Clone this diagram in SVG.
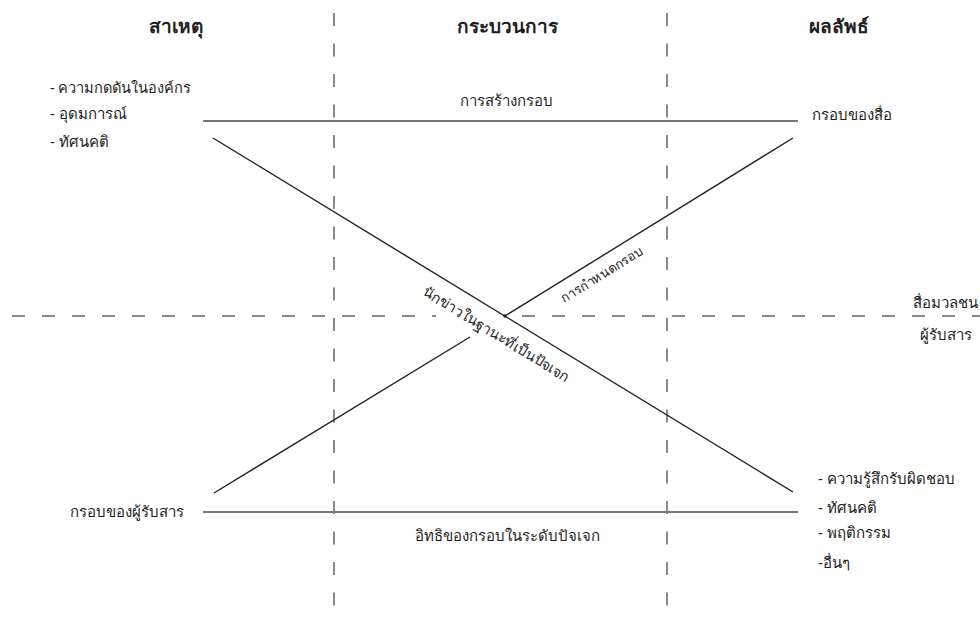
<svg xmlns="http://www.w3.org/2000/svg" width="980" height="617" viewBox="0 0 980 617">
<style>
text{font-family:"Noto Sans","DejaVu Sans",sans-serif;fill:#1e1e1e;}
.h{font-size:19px;font-weight:bold;}
.t{font-size:15px;}
.s{font-size:13px;}
.dash{stroke:#8a8a8a;stroke-width:2;fill:none;}
.hl{stroke:#777;stroke-width:2;fill:none;}
.dl{stroke:#222;stroke-width:1.4;fill:none;}
</style>
<rect width="980" height="617" fill="#fff"/>
<g id="guides">
<line class="dash" x1="334" y1="13" x2="334" y2="612" stroke-dasharray="13 17.5"/>
<line class="dash" x1="667" y1="13" x2="667" y2="612" stroke-dasharray="13 17.5"/>
<line class="dash" x1="-18" y1="316" x2="436" y2="316" stroke-dasharray="13 17"/>
<line class="dash" x1="522" y1="316" x2="980" y2="316" stroke-dasharray="13 17"/>
</g>
<g id="headers">
<text class="h" x="176" y="33" text-anchor="middle">สาเหตุ</text>
<text class="h" x="507" y="33" text-anchor="middle">กระบวนการ</text>
<text class="h" x="839" y="33" text-anchor="middle">ผลลัพธ์</text>
</g>
<g id="connectors">
<line class="hl" x1="203" y1="121" x2="798" y2="121"/>
<line class="hl" x1="203" y1="512" x2="798" y2="512"/>
<line class="dl" x1="213" y1="138" x2="793" y2="492"/>
<line class="dl" x1="214" y1="493" x2="470" y2="337"/>
<line class="dl" x1="505" y1="316" x2="793" y2="138"/>
<circle cx="505" cy="316" r="1.8" fill="#222"/>
</g>
<g id="node-causes">
<text class="t" x="50" y="93" style="font-size:14.6px">- ความกดดันในองค์กร</text>
<text class="t" x="50" y="119">- อุดมการณ์</text>
<text class="t" x="50" y="147">- ทัศนคติ</text>
</g>
<g id="node-frame-building">
<text class="t" x="506" y="106" text-anchor="middle">การสร้างกรอบ</text>
</g>
<g id="node-media-frame">
<text class="t" x="812" y="120">กรอบของสื่อ</text>
</g>
<g id="node-frame-setting">
<text class="s" transform="translate(505,316) rotate(-31.7)" x="104" y="20" text-anchor="middle">การกำหนดกรอบ</text>
</g>
<g id="node-journalist">
<text class="t" transform="translate(505,316) rotate(31.4)" x="2" y="25" text-anchor="middle" style="font-size:14.5px">นักข่าวในฐานะที่เป็นปัจเจก</text>
</g>
<g id="node-media-audience">
<text class="t" x="913" y="308">สื่อมวลชน</text>
<text class="t" x="920" y="340">ผู้รับสาร</text>
</g>
<g id="node-audience-frame">
<text class="t" x="70" y="517">กรอบของผู้รับสาร</text>
</g>
<g id="node-individual-effect">
<text class="t" x="507" y="541" text-anchor="middle">อิทธิของกรอบในระดับปัจเจก</text>
</g>
<g id="node-outcomes">
<text class="t" x="818" y="484">- ความรู้สึกรับผิดชอบ</text>
<text class="t" x="818" y="513">- ทัศนคติ</text>
<text class="t" x="818" y="538">- พฤติกรรม</text>
<text class="t" x="818" y="568">-อื่นๆ</text>
</g>
</svg>
